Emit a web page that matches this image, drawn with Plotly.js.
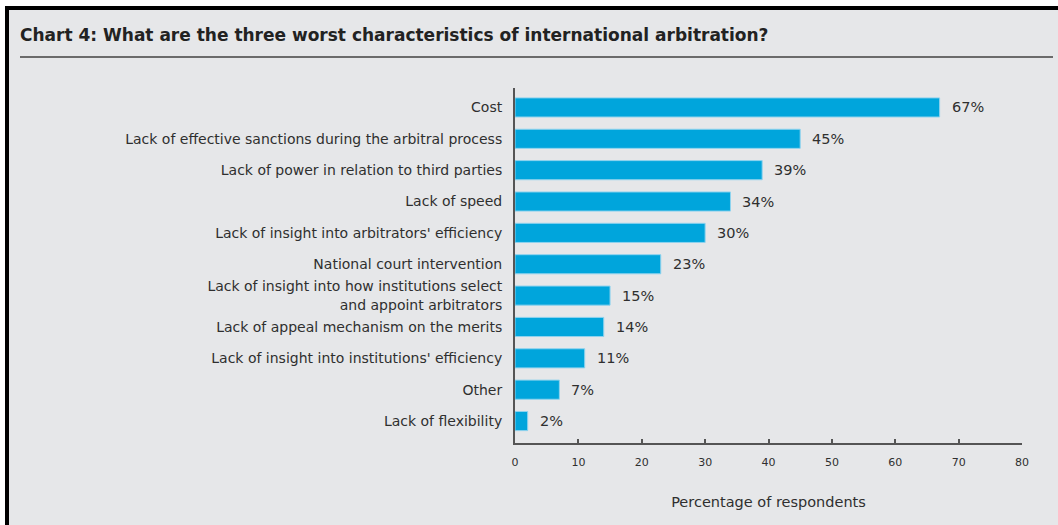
<!DOCTYPE html>
<html>
<head>
<meta charset="utf-8">
<script src="https://cdn.plot.ly/plotly-3.0.1.min.js"></script>
<style>
  html, body { margin: 0; padding: 0; background: #ffffff; width: 1058px; height: 525px; overflow: hidden; }
  #frame { position: absolute; left: 5px; top: 6px; width: 1060px; height: 530px;
           border-left: 4px solid #000; border-top: 4px solid #000; background: #E6E7E9; }
  #rule { position: absolute; left: 20px; top: 56px; width: 1033px; height: 2px; background: #6b6b6b; }
  #chart { position: absolute; left: 0; top: 0; width: 1058px; height: 525px; }
</style>
</head>
<body>
<div id="frame"></div>
<div id="rule"></div>
<div id="chart"></div>
<script>
const categories = [
  "Cost",
  "Lack of effective sanctions during the arbitral process",
  "Lack of power in relation to third parties",
  "Lack of speed",
  "Lack of insight into arbitrators' efficiency",
  "National court intervention",
  "Lack of insight into how institutions select<br>and appoint arbitrators",
  "Lack of appeal mechanism on the merits",
  "Lack of insight into institutions' efficiency",
  "Other",
  "Lack of flexibility"
];
const values = [67, 45, 39, 34, 30, 23, 15, 14, 11, 7, 2];
const xTicks = [0, 10, 20, 30, 40, 50, 60, 70, 80];

const font = "'DejaVu Sans', Verdana, sans-serif";
const textColor = "#2f2f2f";

const trace = {
  type: "bar",
  orientation: "h",
  y: categories,
  x: values,
  width: 0.61,
  marker: { color: "#00A5DC", line: { color: "#8fd3ee", width: 1 } },
  hoverinfo: "none"
};

const annotations = values.map((v, i) => ({
  x: v, y: categories[i], xref: "x", yref: "y",
  text: v + "%", showarrow: false, xanchor: "left", xshift: 10,
  font: { family: font, size: 14.5, color: textColor }
}));

const layout = {
  width: 1058, height: 525,
  paper_bgcolor: "rgba(0,0,0,0)",
  plot_bgcolor: "rgba(0,0,0,0)",
  margin: { l: 515, r: 36, t: 88, b: 82, pad: 0 },
  showlegend: false,
  title: {
    text: "<b>Chart 4: What are the three worst characteristics of international arbitration?</b>",
    font: { family: font, size: 17, color: "#222222" },
    xref: "container", yref: "container", x: 20 / 1058, xanchor: "left",
    y: 1 - 35 / 525, yanchor: "middle"
  },
  xaxis: {
    range: [0, 80], tickvals: xTicks, ticktext: xTicks.map(String),
    showgrid: false, zeroline: false,
    showline: true, linecolor: "#555555", linewidth: 2,
    ticks: "inside", ticklen: 4, tickwidth: 2, tickcolor: "#555555",
    ticklabelstandoff: 8,
    tickfont: { family: font, size: 11, color: textColor },
    title: { text: "Percentage of respondents", font: { family: font, size: 14.5, color: textColor }, standoff: 29 },
    fixedrange: true
  },
  yaxis: {
    type: "category",
    range: [10.7, -0.62],
    showgrid: false, zeroline: false,
    showline: true, linecolor: "#555555", linewidth: 2,
    ticks: "outside", ticklen: 8, tickcolor: "rgba(0,0,0,0)",
    tickfont: { family: font, size: 14, color: textColor },
    fixedrange: true
  },
  annotations: annotations
};

Plotly.newPlot("chart", [trace], layout, { displayModeBar: false, staticPlot: true });
</script>
</body>
</html>
